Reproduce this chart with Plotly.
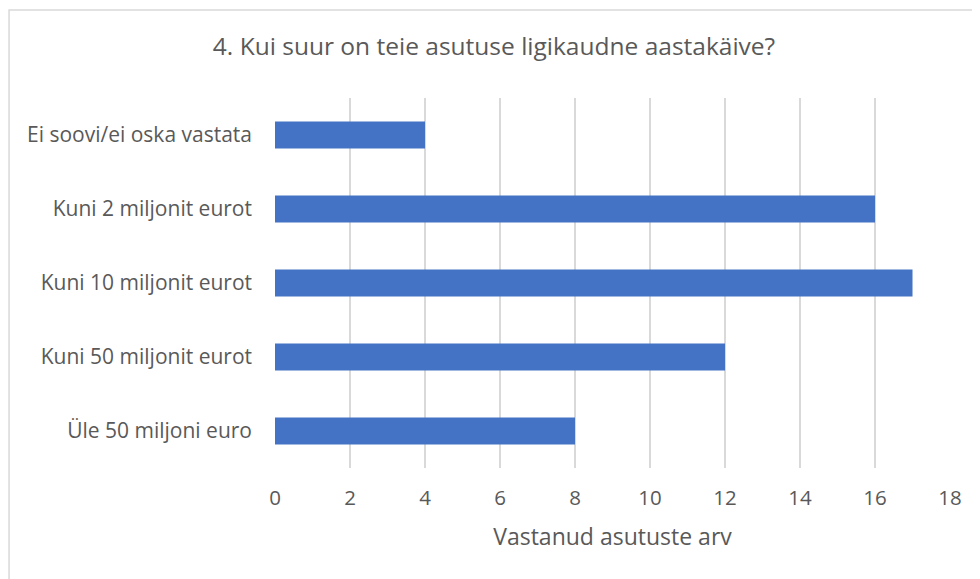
import plotly.graph_objects as go

categories = ["Ei soovi/ei oska vastata", "Kuni 2 miljonit eurot", "Kuni 10 miljonit eurot",
              "Kuni 50 miljonit eurot", "Üle 50 miljoni euro"]
counts = [4, 16, 17, 12, 8]
x_ticks = list(range(0, 19, 2))

txt = "#595959"
font = "Open Sans"

fig = go.Figure()
fig.add_bar(y=categories, x=counts, orientation="h", marker_color="#4472C4",
            marker_line_width=0)

# page body has an 8px margin, so the figure is sized to fill the rest
fig.update_layout(
    width=972, height=571,
    margin=dict(l=267, r=30, t=90, b=111),
    paper_bgcolor="white", plot_bgcolor="white",
    font=dict(family=font, color=txt, size=19),
    bargap=0.635,
    showlegend=False,
    title=dict(text="4. Kui suur on teie asutuse ligikaudne aastakäive?",
               x=0.5, xanchor="center", y=0.932, yanchor="middle",
               font=dict(size=24.5, color=txt)),
)
fig.update_xaxes(range=[0, 18], tickvals=x_ticks, showgrid=True, gridcolor="#D9D9D9",
                 gridwidth=1.5, zeroline=False, showline=False, ticks="",
                 ticklabelstandoff=15, tickfont=dict(size=20.5),
                 title=dict(text="Vastanud asutuste arv", font=dict(size=23, color=txt),
                            standoff=19))
fig.update_yaxes(categoryorder="array", categoryarray=categories[::-1],
                 showgrid=False, zeroline=False, showline=False, ticks="",
                 ticklabelstandoff=22, tickfont=dict(size=21))

# outer chart border (only top and left edges are visible in the crop)
fig.add_shape(type="rect", xref="paper", yref="paper",
              x0=-0.394, x1=1.1, y0=-0.4, y1=1.238,
              line=dict(color="#D9D9D9", width=1.5), layer="below")

fig.write_html("out.html")
